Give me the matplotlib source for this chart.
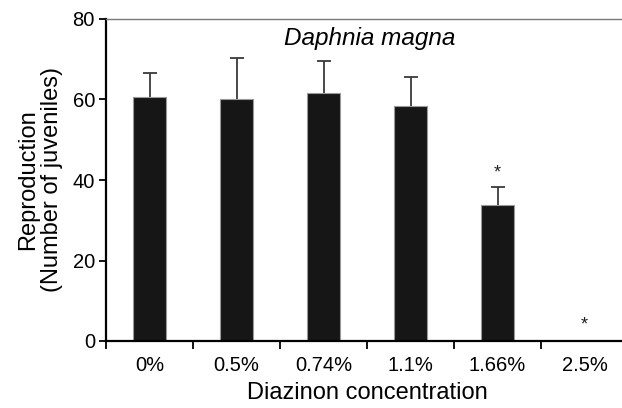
import numpy as np
import matplotlib
matplotlib.use("Agg")
import matplotlib.pyplot as plt

plt.rcParams['font.family'] = ['Liberation Sans', 'DejaVu Sans']

categories = ['0%', '0.5%', '0.74%', '1.1%', '1.66%', '2.5%']
means = [60.7, 60.1, 61.5, 58.3, 33.7, 0]
upper_err = [5.8, 10.3, 8.0, 7.4, 4.5, 0]
star_y = [None, None, None, None, 41.8, 4.0]

fig = plt.figure(figsize=(6.22, 4.08), dpi=100)
ax = fig.add_axes([106 / 622, 67 / 408, 522 / 622, 322 / 408])

x = np.arange(len(categories))
means = np.array(means)
upper_err = np.array(upper_err)
ax.bar(x, means, width=0.39, color='#161616', edgecolor='#9a9a9a', linewidth=0.8, zorder=2)

# upper-only error bars with a cap
has_err = upper_err > 0
ax.vlines(x[has_err], means[has_err], means[has_err] + upper_err[has_err],
          color='#3a3a3a', linewidth=1.3, zorder=1)
ax.plot(x[has_err], means[has_err] + upper_err[has_err], linestyle='none',
        marker='_', markersize=10, markeredgewidth=1.3, color='#3a3a3a', zorder=1)

for xi, sy in zip(x, star_y):
    if sy is not None:
        ax.text(xi, sy, '*', ha='center', va='center', fontsize=13, color='#222222')

ax.set_xlim(-0.5, 5.5)
ax.set_ylim(0, 80)
ax.set_yticks([0, 20, 40, 60, 80])
ax.set_xticks(x)
ax.set_xticklabels(categories, fontsize=14.5)
ax.set_xticks(np.arange(-0.5, 5.5, 1), minor=True)
ax.tick_params(axis='x', which='major', length=0, pad=11)
ax.tick_params(axis='x', which='minor', length=6, width=1.3, direction='out')
ax.tick_params(axis='y', labelsize=14.5, length=5, width=1.3, direction='out', pad=3)

ax.spines['right'].set_visible(False)
ax.spines['top'].set_color('#777777')
ax.spines['top'].set_linewidth(1.0)
ax.spines['left'].set_linewidth(1.6)
ax.spines['bottom'].set_linewidth(1.6)

fig.text(370 / 622, 1 - 38 / 408, 'Daphnia magna', style='italic', fontsize=17.5,
         ha='center', va='center')

ax.set_ylabel('Reproduction\n(Number of juveniles)', fontsize=17, linespacing=1.12, labelpad=7)
ax.set_xlabel('Diazinon concentration', fontsize=17, labelpad=5)

fig.savefig('out.png', dpi=100)
